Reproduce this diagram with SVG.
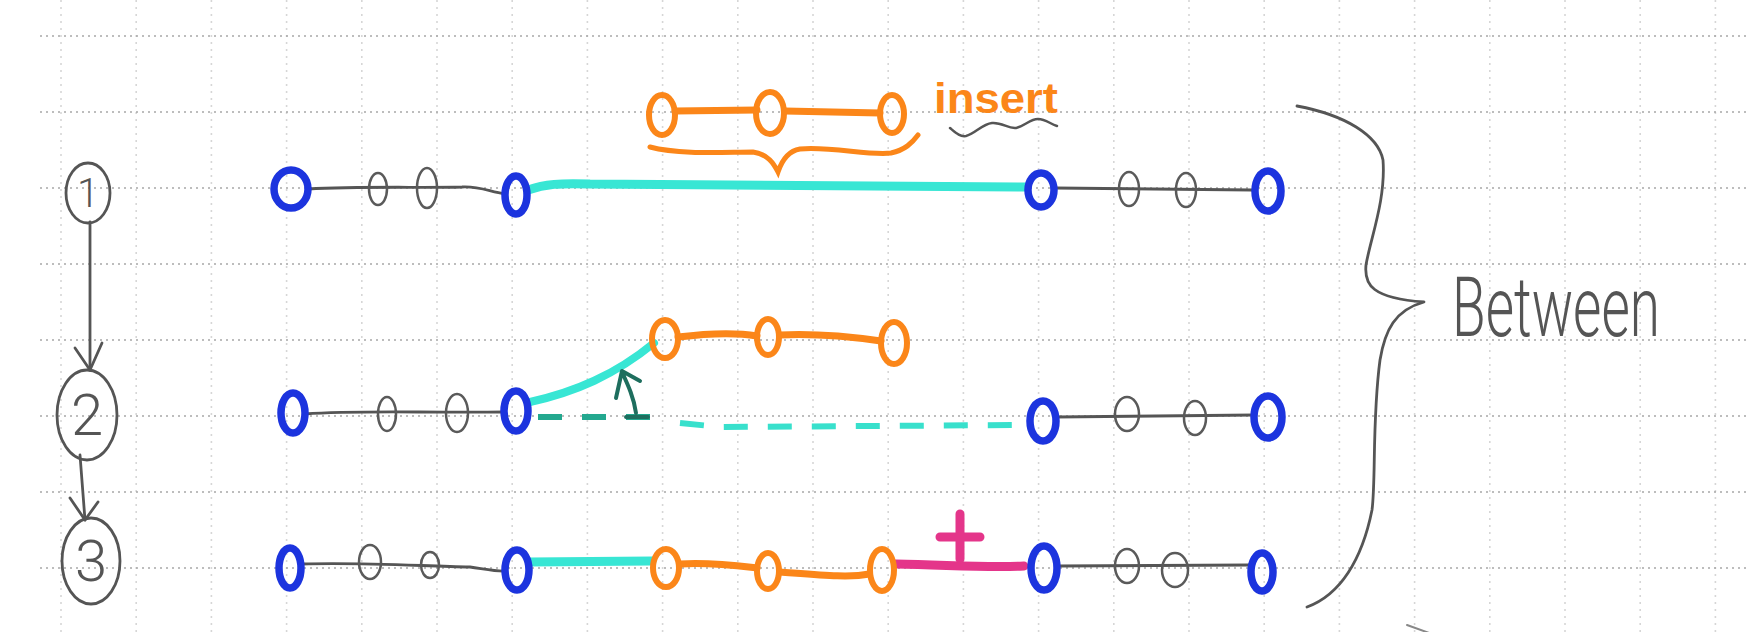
<svg xmlns="http://www.w3.org/2000/svg" width="1748" height="632" viewBox="0 0 1748 632">
<style>
.hg{stroke:#a8a8a8;stroke-width:1.6;stroke-dasharray:2 4;fill:none}
.vg{stroke:#d6d6d6;stroke-width:1.6;stroke-dasharray:2 5;fill:none}
.blue{fill:none;stroke:#1c34de;stroke-width:7.5}
.org{fill:none;stroke:#fb8619;stroke-width:6}
.gsm{fill:none;stroke:#5a5a5a;stroke-width:2.5}
.ink{fill:none;stroke:#555;stroke-width:2.8;stroke-linecap:round;stroke-linejoin:round}
.gl{fill:none;stroke:#555;stroke-width:2.8;stroke-linecap:round}
.cy{fill:none;stroke:#38e6d4;stroke-width:9;stroke-linecap:round}
.ol{fill:none;stroke:#fb8619;stroke-width:7;stroke-linecap:round}
.pk{fill:none;stroke:#e4358a;stroke-width:9;stroke-linecap:round}
.num{font-family:Roboto,'Liberation Sans',sans-serif;font-weight:300;fill:#555;text-anchor:middle}
</style>
<rect width="1748" height="632" fill="#ffffff"/>
<g id="grid">
<path class="vg" d="M61,0V632M136.2,0V632M211.4,0V632M286.6,0V632M361.8,0V632M437,0V632M512.2,0V632M587.4,0V632M662.6,0V632M737.8,0V632M813,0V632M888.2,0V632M963.4,0V632M1038.6,0V632M1113.8,0V632M1189,0V632M1264.2,0V632M1339.4,0V632M1414.6,0V632M1489.8,0V632M1565,0V632M1640.2,0V632M1715.4,0V632"/>
<path class="hg" d="M40,36H1748M40,112H1748M40,188H1748M40,264H1748M40,340H1748M40,416H1748M40,492H1748M40,568H1748"/>
</g>
<g id="connectors">
<path class="ink" d="M90,222 L90,370"/>
<path class="ink" d="M75,348 L90,370 L102,343"/>
<path class="ink" d="M80,455 L85,520"/>
<path class="ink" d="M70,498 L85,520 L98,502"/>
<path class="gl" d="M308,189 C360,186 420,188 462,187 C480,186 490,192 505,194"/>
<path class="cy" d="M528,190 C545,184 560,183 590,184 L1025,187"/>
<path class="gl" d="M1055,188 L1252,190"/>
<path class="gl" d="M305,414 C360,410 420,413 505,412"/>
<path class="cy" style="stroke-width:8" d="M530,402 C575,392 615,375 654,343"/>
<path fill="none" stroke="#23a88f" stroke-width="6" stroke-dasharray="24 20" d="M538,417 L650,417"/>
<path fill="none" stroke="#38e0cc" stroke-width="6" stroke-dasharray="24 20" d="M680,423 L720,427 L1022,425"/>
<path class="gl" d="M1056,417 L1255,415"/>
<path class="gl" d="M302,564 C360,562 420,566 470,567 C490,570 500,572 505,571"/>
<path class="cy" d="M530,562 L652,561"/>
<path class="pk" d="M896,564 C950,565 990,568 1024,566"/>
<path class="gl" d="M1058,566 L1250,565"/>
<path class="ol" d="M675,111 L757,110"/>
<path class="ol" d="M785,111 L880,113"/>
<path class="ol" d="M678,337 C710,333 740,333 757,336"/>
<path class="ol" d="M780,335 C820,333 860,338 881,341"/>
<path class="ol" d="M680,564 C710,562 740,566 757,568"/>
<path class="ol" d="M780,572 C820,575 850,578 869,574"/>
</g>
<g id="step1">
<ellipse cx="88" cy="193" rx="22" ry="30" class="ink"/>
<text class="num" x="88" y="207" font-size="40">1</text>
</g>
<g id="step2">
<ellipse cx="87" cy="415" rx="30" ry="45" class="ink"/>
<text class="num" x="87" y="435" font-size="58">2</text>
</g>
<g id="step3">
<ellipse cx="91" cy="561" rx="29" ry="43" class="ink"/>
<text class="num" x="91" y="581" font-size="58">3</text>
</g>
<g id="row1">
<ellipse cx="291" cy="189" rx="17" ry="19" class="blue"/>
<ellipse cx="378" cy="189" rx="9" ry="16" class="gsm"/>
<ellipse cx="427" cy="188" rx="10" ry="20" class="gsm"/>
<ellipse cx="516" cy="195" rx="11" ry="19" class="blue"/>
<ellipse cx="1041" cy="190" rx="13" ry="17" class="blue"/>
<ellipse cx="1129" cy="189" rx="10" ry="17" class="gsm"/>
<ellipse cx="1186" cy="190" rx="10" ry="17" class="gsm"/>
<ellipse cx="1268" cy="191" rx="13" ry="20" class="blue"/>
</g>
<g id="insert-chain">
<ellipse cx="662" cy="115" rx="13" ry="20" class="org"/>
<ellipse cx="770" cy="113" rx="14" ry="21" class="org"/>
<ellipse cx="892" cy="114" rx="12" ry="19" class="org"/>
<path fill="none" stroke="#fb8619" stroke-width="5" stroke-linecap="round" d="M650,147 C680,155 725,152 753,152 C768,154 774,164 778,172 C782,160 788,151 800,149 C830,146 870,156 891,153 C905,150 912,143 918,135"/>
<text x="934" y="113" font-family="'Liberation Sans',sans-serif" font-weight="bold" font-size="42" fill="#fb8619" textLength="124" lengthAdjust="spacingAndGlyphs">insert</text>
<path class="gl" style="stroke-width:2.5" d="M950,128 C956,133 960,137 966,136 C975,134 982,124 992,123 C1002,122 1008,129 1016,128 C1025,126 1030,119 1038,119 C1046,119 1050,124 1057,126"/>
</g>
<g id="row2">
<ellipse cx="293" cy="413" rx="12" ry="20" class="blue"/>
<ellipse cx="387" cy="414" rx="9" ry="17" class="gsm"/>
<ellipse cx="457" cy="413" rx="11" ry="19" class="gsm"/>
<ellipse cx="516" cy="411" rx="12" ry="20" class="blue"/>
<ellipse cx="665" cy="339" rx="13" ry="19" class="org"/>
<ellipse cx="768" cy="337" rx="11" ry="18" class="org"/>
<ellipse cx="894" cy="343" rx="13" ry="21" class="org"/>
<ellipse cx="1043" cy="421" rx="13" ry="20" class="blue"/>
<ellipse cx="1127" cy="414" rx="12" ry="17" class="gsm"/>
<ellipse cx="1195" cy="418" rx="11" ry="17" class="gsm"/>
<ellipse cx="1268" cy="417" rx="14" ry="21" class="blue"/>
<path fill="none" stroke="#1e6e5e" stroke-width="4" stroke-linecap="round" stroke-linejoin="round" d="M636,413 C634,398 628,385 622,372 M616,398 L622,371 L640,381 M626,417 L648,417"/>
</g>
<g id="row3">
<ellipse cx="290" cy="568" rx="11" ry="20" class="blue"/>
<ellipse cx="370" cy="562" rx="11" ry="17" class="gsm"/>
<ellipse cx="430" cy="565" rx="9" ry="13" class="gsm"/>
<ellipse cx="517" cy="570" rx="12" ry="20" class="blue"/>
<ellipse cx="666" cy="568" rx="13" ry="19" class="org"/>
<ellipse cx="768" cy="571" rx="11" ry="18" class="org"/>
<ellipse cx="882" cy="570" rx="12" ry="21" class="org"/>
<path class="pk" d="M960,514 L960,559 M940,537 L980,537"/>
<ellipse cx="1044" cy="568" rx="13" ry="22" class="blue"/>
<ellipse cx="1127" cy="566" rx="12" ry="17" class="gsm"/>
<ellipse cx="1175" cy="570" rx="13" ry="17" class="gsm"/>
<ellipse cx="1262" cy="572" rx="11" ry="19" class="blue"/>
</g>
<g id="between">
<path class="ink" d="M1297,106 C1345,115 1378,135 1383,160 C1386,200 1370,240 1366,265 C1364,285 1372,298 1424,302 C1395,310 1385,330 1380,360 C1372,420 1376,480 1372,510 C1362,560 1340,595 1307,607"/>
<text transform="translate(1452,336) scale(1,1.5)" x="0" y="0" font-family="Roboto,'Liberation Sans',sans-serif" font-weight="300" font-size="56" fill="#555" textLength="208" lengthAdjust="spacingAndGlyphs">Between</text>
<path class="gl" style="stroke:#888;stroke-width:2" d="M1407,625 L1432,634"/>
</g>
</svg>
